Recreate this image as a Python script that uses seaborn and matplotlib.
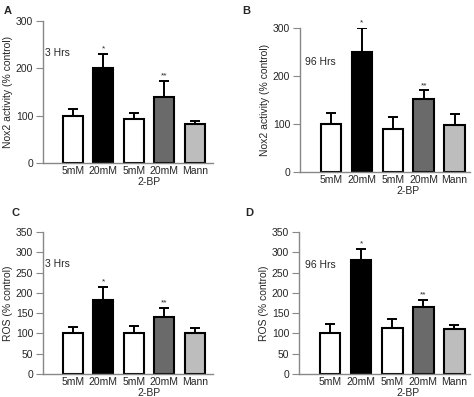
import pandas as pd
import seaborn as sns
import matplotlib.pyplot as plt

sns.set_style("white")
plt.rcParams['font.family'] = ['Liberation Sans', 'DejaVu Sans']

groups = ["5mM", "20mM", "5mM ", "20mM ", "Mann"]
tick_labels = ["5mM", "20mM", "5mM", "20mM", "Mann"]
bar_colors = ["white", "black", "white", "#6a6a6a", "#bdbdbd"]

# Nox2 activity, 3 Hrs (A) and 96 Hrs (B)
nox2_3h = [100, 200, 93, 140, 83]
nox2_3h_err = [15, 30, 12, 33, 6]
nox2_96h = [100, 250, 90, 152, 97]
nox2_96h_err = [22, 50, 25, 18, 23]
# ROS, 3 Hrs (C) and 96 Hrs (D)
ros_3h = [100, 183, 101, 140, 100]
ros_3h_err = [15, 32, 17, 22, 13]
ros_96h = [100, 280, 113, 165, 112]
ros_96h_err = [23, 28, 23, 17, 9]

marks = ["", "*", "", "**", ""]

panels = [
    ("A", "3 Hrs", nox2_3h, nox2_3h_err, "Nox2 activity (% control)", 300, 100,
     [43/474, 1-163/397, 170/474, 142/397], (-0.98, 4.6), (0.012, 0.775)),
    ("B", "96 Hrs", nox2_96h, nox2_96h_err, "Nox2 activity (% control)", 300, 100,
     [300/474, 1-172/397, 170/474, 144/397], (-1.0, 4.5), (0.03, 0.764)),
    ("C", "3 Hrs", ros_3h, ros_3h_err, "ROS (% control)", 350, 50,
     [43/474, 1-374/397, 170/474, 142/397], (-0.98, 4.6), (0.012, 0.775)),
    ("D", "96 Hrs", ros_96h, ros_96h_err, "ROS (% control)", 350, 50,
     [299/474, 1-374/397, 171/474, 142/397], (-1.0, 4.5), (0.035, 0.768)),
]
letter_pos = {"A": (4/474, 1-6/397), "B": (242/474, 1-6/397),
              "C": (11/474, 1-208/397), "D": (245/474, 1-208/397)}

fs = 7.5

fig = plt.figure(figsize=(4.74, 3.97), dpi=100)
for letter, note, vals, errs, ylab, ymax, step, rect, xl, npos in panels:
    ax = fig.add_axes(rect)
    df = pd.DataFrame({"group": groups, "value": vals})
    sns.barplot(data=df, x="group", y="value", hue="group", palette=bar_colors,
                width=0.66, edgecolor="black", linewidth=1.5, legend=False, ax=ax)
    xs = [p.get_x() + p.get_width() / 2 for p in ax.patches]
    ax.errorbar(xs, vals, yerr=[[0]*5, errs], fmt="none", ecolor="black",
                elinewidth=1.4, capsize=3.5, capthick=1.4)
    for x, v, e, m in zip(xs, vals, errs, marks):
        if m:
            ax.text(x, v + e + ymax*0.01, m, ha="center", va="bottom", fontsize=6)
    ax.set_ylim(0, ymax)
    ax.set_xlim(*xl)
    ax.set_yticks(range(0, ymax + 1, step))
    ax.set_xticks(range(5))
    ax.set_xticklabels(tick_labels, fontsize=fs)
    ax.tick_params(axis="y", labelsize=fs, length=5, width=0.8, left=True, color="#888888", pad=2)
    ax.tick_params(axis="x", length=0, pad=2.5)
    ax.set_xlabel("")
    ax.set_ylabel(ylab, fontsize=fs, labelpad=2)
    for side in ["top", "right"]:
        ax.spines[side].set_visible(False)
    for side in ["left", "bottom"]:
        ax.spines[side].set_color("#888888")
        ax.spines[side].set_linewidth(1.0)
    ax.text(2.5, -0.1, "2-BP", transform=ax.get_xaxis_transform(), ha="center",
            va="top", fontsize=fs)
    ax.text(npos[0], npos[1], note, transform=ax.transAxes, fontsize=fs, va="center")
    fig.text(*letter_pos[letter], letter, fontsize=8, fontweight="bold", va="top")

fig.savefig("out.png", dpi=100)
